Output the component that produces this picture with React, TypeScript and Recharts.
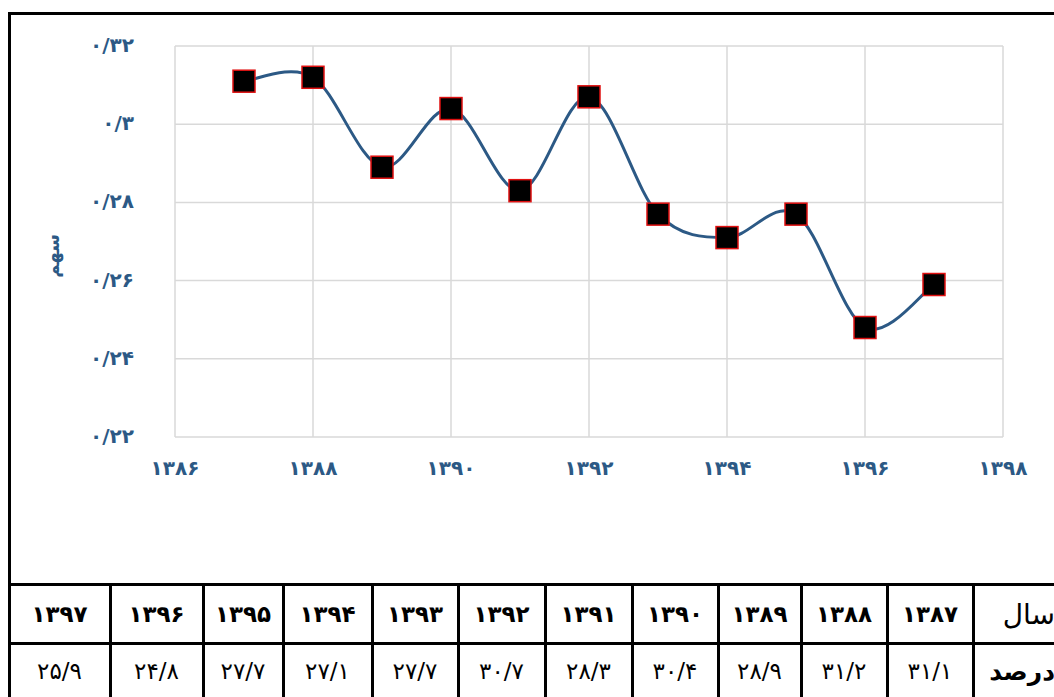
import React from 'react';
import { LineChart, Line, XAxis, YAxis, CartesianGrid } from 'recharts';

// data
const years = [1387, 1388, 1389, 1390, 1391, 1392, 1393, 1394, 1395, 1396, 1397];
const percents = [31.1, 31.2, 28.9, 30.4, 28.3, 30.7, 27.7, 27.1, 27.7, 24.8, 25.9];
const xTicks = [1386, 1388, 1390, 1392, 1394, 1396, 1398];
const yTicks = [0.22, 0.24, 0.26, 0.28, 0.3, 0.32];
const yTickLabels = ['۰/۲۲', '۰/۲۴', '۰/۲۶', '۰/۲۸', '۰/۳', '۰/۳۲'];
const yLabel = 'سهم';
const rowYear = 'سال';
const rowPct = 'درصد';

// layout of table columns (left edge x), left to right: 1397 ... 1387, label
const colEdges = [9, 110, 203, 283, 372, 458, 545, 632, 718, 801, 887, 973, 1060];

const FA = '۰۱۲۳۴۵۶۷۸۹';
const toFa = (s: string | number) =>
  String(s).replace(/\d/g, (d) => FA[+d]).replace('.', '/');

const chartData = years.map((y, i) => ({ year: y, share: percents[i] / 100 }));

const BLUE = '#2C5985';
const FONT = '"DejaVu Sans", sans-serif';

// Excel-like smooth line (Catmull-Rom)
const smoothCurve: any = (context: any) => {
  let pts: number[][] = [];
  return {
    areaStart() {},
    areaEnd() {},
    lineStart() { pts = []; },
    lineEnd() {
      const n = pts.length;
      if (!n) return;
      context.moveTo(pts[0][0], pts[0][1]);
      for (let i = 0; i < n - 1; i++) {
        const p0 = pts[i - 1] || pts[i];
        const p1 = pts[i];
        const p2 = pts[i + 1];
        const p3 = pts[i + 2] || p2;
        context.bezierCurveTo(
          p1[0] + (p2[0] - p0[0]) / 6, p1[1] + (p2[1] - p0[1]) / 6,
          p2[0] - (p3[0] - p1[0]) / 6, p2[1] - (p3[1] - p1[1]) / 6,
          p2[0], p2[1]
        );
      }
    },
    point(x: number, y: number) { pts.push([+x, +y]); },
  };
};

const SquareDot = (props: any) => {
  const { cx, cy, index } = props;
  if (cx == null || cy == null) return null;
  return <rect key={`d-${index}`} x={cx - 11} y={cy - 11} width={22} height={22} fill="#000" stroke="#E01010" strokeWidth={1.5} />;
};

const YTick = ({ x, y, payload }: any) => {
  const i = yTicks.indexOf(payload.value);
  return (
    <text x={x - 33} y={y} dy={6} textAnchor="end" fill={BLUE} fontFamily={FONT} fontWeight="bold" fontSize={20}>
      {yTickLabels[i] ?? toFa(payload.value)}
    </text>
  );
};

const XTick = ({ x, y, payload }: any) => (
  <text x={x} y={y} dy={30} textAnchor="middle" fill={BLUE} fontFamily={FONT} fontWeight="bold" fontSize={20}>
    {toFa(payload.value)}
  </text>
);

const cellStyle = (left: number, width: number, top: number, height: number): React.CSSProperties => ({
  position: 'absolute',
  left,
  top,
  width,
  height,
  display: 'flex',
  alignItems: 'center',
  justifyContent: 'center',
  fontFamily: FONT,
  color: '#000',
});

export default function App() {
  const tableYears = [...years].reverse();
  const tablePcts = [...percents].reverse();
  const rowTop1 = 583;
  const rowTop2 = 642;
  return (
    <div style={{ position: 'absolute', left: 0, top: 0, width: 1054, height: 697, overflow: 'hidden', background: '#fff' }}>
      <div style={{ position: 'absolute', left: 0, top: 0 }}>
        <LineChart width={1054} height={560} data={chartData} margin={{ top: 46, right: 51, bottom: 63, left: 0 }}>
          <CartesianGrid stroke="#d9d9d9" strokeWidth={1.5} />
          <XAxis
            dataKey="year"
            type="number"
            domain={[1386, 1398]}
            ticks={xTicks}
            axisLine={false}
            tickLine={false}
            height={60}
            tick={<XTick />}
            interval={0}
          />
          <YAxis
            type="number"
            domain={[0.22, 0.32]}
            ticks={yTicks}
            axisLine={false}
            tickLine={false}
            width={175}
            tick={<YTick />}
            interval={0}
          />
          <Line
            dataKey="share"
            type={smoothCurve}
            stroke={BLUE}
            strokeWidth={3}
            dot={<SquareDot />}
            activeDot={false}
            isAnimationActive={false}
          />
          <text x={52} y={256} transform="rotate(-90 52 256)" textAnchor="middle" dominantBaseline="central" fill={BLUE} fontFamily={FONT} fontWeight="bold" fontSize={18}>
            {yLabel}
          </text>
        </LineChart>
      </div>

      {/* frame */}
      <div style={{ position: 'absolute', left: 8, top: 12, width: 1100, height: 3, background: '#000' }} />
      <div style={{ position: 'absolute', left: 8, top: 12, width: 3, height: 700, background: '#000' }} />
      <div style={{ position: 'absolute', left: 8, top: rowTop1, width: 1100, height: 3, background: '#000' }} />
      <div style={{ position: 'absolute', left: 8, top: rowTop2, width: 1100, height: 3, background: '#000' }} />
      {colEdges.slice(1, -1).map((x) => (
        <div key={`v-${x}`} style={{ position: 'absolute', left: x - 1, top: rowTop1, width: 3, height: 120, background: '#000' }} />
      ))}

      {tableYears.map((y, i) => (
        <div key={`y-${y}`} style={{ ...cellStyle(colEdges[i], colEdges[i + 1] - colEdges[i], rowTop1 + 3, rowTop2 - rowTop1 - 3), fontWeight: 'bold', fontSize: 23 }}>
          {toFa(y)}
        </div>
      ))}
      {tablePcts.map((p, i) => (
        <div key={`p-${i}`} style={{ ...cellStyle(colEdges[i], colEdges[i + 1] - colEdges[i], rowTop2 + 3, 52), fontSize: 23 }}>
          {toFa(p)}
        </div>
      ))}
      <div dir="rtl" style={{ ...cellStyle(colEdges[11], 90, rowTop1 + 3, rowTop2 - rowTop1 - 3), justifyContent: 'flex-start', paddingRight: 8, boxSizing: 'border-box', fontSize: 28 }}>
        {rowYear}
      </div>
      <div dir="rtl" style={{ ...cellStyle(colEdges[11], 90, rowTop2 + 3, 52), justifyContent: 'flex-start', paddingRight: 8, boxSizing: 'border-box', fontSize: 25, fontWeight: 'bold' }}>
        {rowPct}
      </div>
    </div>
  );
}
